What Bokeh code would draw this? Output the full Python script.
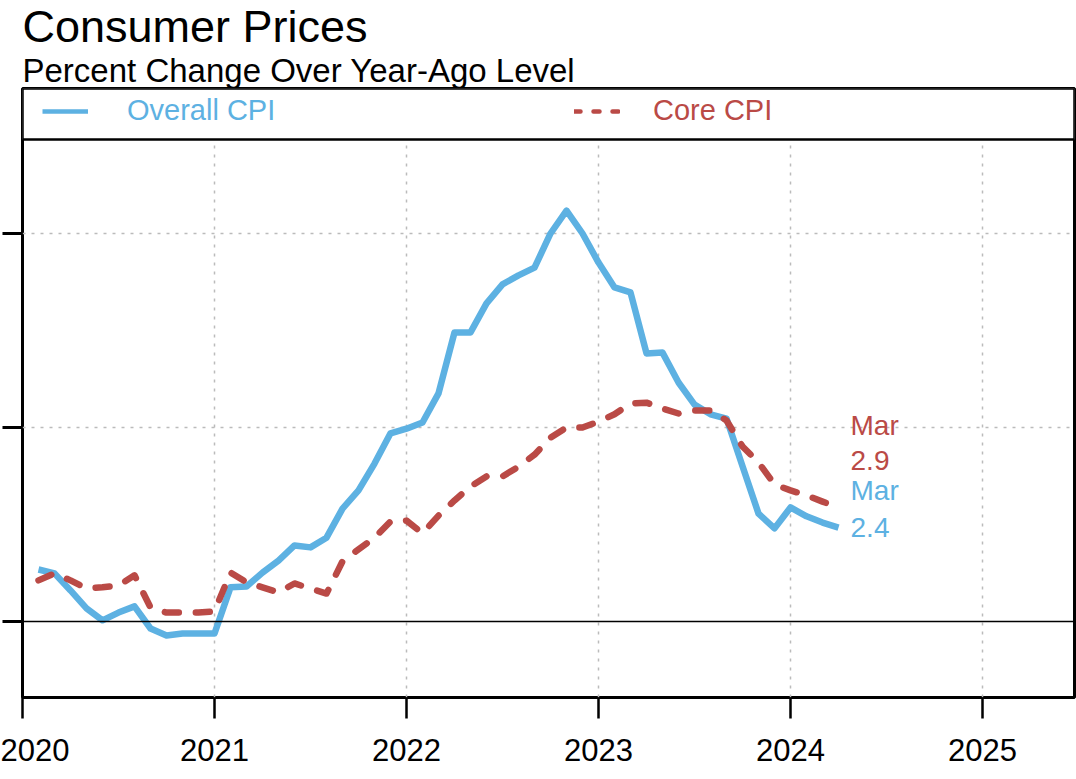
from bokeh.plotting import figure
from bokeh.models import (Title, Span, FixedTicker, BoxAnnotation, Legend, LegendItem,
                          Range1d, ColumnDataSource)
from bokeh.core.properties import value
from bokeh.embed import file_html
from bokeh.resources import INLINE

# ---------------- data ----------------
months = [f"{y}-{m:02d}" for y in range(2020, 2025) for m in range(1, 13)][:51]  # Jan 2020 .. Mar 2024

overall_cpi = [1.34, 1.24, 0.80, 0.34, 0.03, 0.23, 0.39, -0.18, -0.36, -0.31, -0.31, -0.31,
               0.88, 0.90, 1.26, 1.57, 1.96, 1.91, 2.16, 2.91, 3.38, 4.07, 4.85, 4.97,
               5.13, 5.88, 7.45, 7.45, 8.20, 8.69, 8.92, 9.12, 10.00, 10.59, 10.00, 9.25,
               8.61, 8.48, 6.91, 6.93, 6.16, 5.59, 5.34, 5.23, 4.00, 2.78, 2.40, 2.94,
               2.71, 2.55, 2.42]

core_cpi = [1.06, 1.24, 1.06, 0.85, 0.88, 0.93, 1.19, 0.36, 0.23, 0.23, 0.23, 0.26,
            1.26, 1.01, 0.88, 0.75, 0.98, 0.85, 0.72, 1.55, 1.86, 2.16, 2.58, 2.60,
            2.27, 2.73, 3.12, 3.48, 3.74, 3.74, 3.99, 4.30, 4.74, 5.00, 5.00, 5.15,
            5.34, 5.62, 5.64, 5.49, 5.36, 5.44, 5.44, 5.18, 4.51, 4.10, 3.53, 3.38,
            3.25, 3.09, 2.94]

year_ticks = [2020, 2021, 2022, 2023, 2024, 2025]
year_labels = ["2020", "2021", "2022", "2023", "2024", "2025"]
y_ticks = [0, 5, 10]
grid_y = [5, 10]
series_names = ["Overall CPI", "Core CPI"]
last_month_label = "Mar"

# ---------------- style ----------------
FONT = "Liberation Sans"
BLUE = "#5DB1E2"
RED = "#BA4A46"
NAN = float("nan")

x = [int(s[:4]) + int(s[5:]) / 12 for s in months]
src = ColumnDataSource(dict(x=x, overall=overall_cpi, core=core_cpi))

p = figure(width=1076, height=776, output_backend="svg", toolbar_location=None,
           x_range=Range1d(2020.0, 2025.479), y_range=Range1d(-1.959, 13.737),
           min_border_left=22, min_border_right=2, min_border_top=0, min_border_bottom=79)

p.outline_line_color = "black"
p.outline_line_width = 3
p.background_fill_color = "white"
p.border_fill_color = "white"

# titles
sub = Title(text="Percent Change Over Year-Ago Level", text_font=FONT, text_font_size="33px",
            text_font_style="normal", text_color="black", align="left", standoff=0)
main = Title(text="Consumer Prices", text_font=FONT, text_font_size="45px",
             text_font_style="normal", text_color="black", align="left", standoff=-4)
p.add_layout(sub, "above")
p.add_layout(main, "above")

# grids
p.xgrid.ticker = FixedTicker(ticks=year_ticks)
p.ygrid.ticker = FixedTicker(ticks=grid_y)
for g in (p.xgrid, p.ygrid):
    g.grid_line_color = "#BBBBBB"
    g.grid_line_dash = "3 6"
    g.grid_line_width = 1.5

# axes
p.yaxis.ticker = FixedTicker(ticks=y_ticks)
p.yaxis.major_label_overrides = {t: "" for t in y_ticks}
p.yaxis.major_label_standoff = 0
p.yaxis.major_tick_out = 20
p.yaxis.major_tick_in = 0
p.yaxis.major_tick_line_width = 3
p.yaxis.minor_tick_line_color = None
p.yaxis.axis_line_color = None

p.xaxis.ticker = FixedTicker(ticks=year_ticks)
p.xaxis.major_label_overrides = dict(zip(year_ticks, year_labels))
p.xaxis.major_label_text_font = FONT
p.xaxis.major_label_text_font_size = "31px"
p.xaxis.major_label_text_color = "black"
p.xaxis.major_label_standoff = 20
p.xaxis.major_tick_out = 21
p.xaxis.major_tick_in = 0
p.xaxis.major_tick_line_width = 2.5
p.xaxis.minor_tick_line_color = None
p.xaxis.axis_line_color = None

# legend box (covers grid in the top strip)
p.add_layout(BoxAnnotation(bottom=12.42, fill_color="white", fill_alpha=1.0,
                           line_color="black", line_alpha=1.0, line_width=2.5))

# zero line
p.add_layout(Span(location=0, dimension="width", line_color="black", line_width=1.5))

r_blue = p.line("x", "overall", source=src, line_color=BLUE, line_width=6.5, line_join="round")
r_red = p.line("x", "core", source=src, line_color=RED, line_width=6.5, line_dash="14 17",
               line_cap="round", line_join="round")

# legend-only keys (short dashes in the key, as in the reference); NaN data draws nothing
keysrc = ColumnDataSource(dict(x=[NAN, NAN], y=[NAN, NAN]))
k_blue = p.line("x", "y", source=keysrc, line_color=BLUE, line_width=4.5)
k_red = p.line("x", "y", source=keysrc, line_color=RED, line_width=4.5, line_dash="6 13",
               line_cap="round")

leg1 = Legend(items=[LegendItem(label=series_names[0], renderers=[k_blue])],
              location=(20, 570), orientation="horizontal", glyph_width=46, glyph_height=30,
              label_standoff=39, label_text_font=FONT, label_text_font_size="29px",
              label_text_color=BLUE, border_line_color=None, background_fill_alpha=0,
              padding=0, margin=0)
leg2 = Legend(items=[LegendItem(label=series_names[1], renderers=[k_red])],
              location=(552, 570), orientation="horizontal", glyph_width=46, glyph_height=30,
              label_standoff=33, label_text_font=FONT, label_text_font_size="29px",
              label_text_color=RED, border_line_color=None, background_fill_alpha=0,
              padding=0, margin=0)
p.add_layout(leg1)
p.add_layout(leg2)

# end-of-line labels
lx = x[-1]
lab = ColumnDataSource(dict(
    x=[lx] * 4,
    y=[core_cpi[-1] + 2.1, core_cpi[-1] + 1.2, overall_cpi[-1] + 0.96, overall_cpi[-1]],
    t=[last_month_label, f"{core_cpi[-1]:.1f}", last_month_label, f"{overall_cpi[-1]:.1f}"],
    c=[RED, RED, BLUE, BLUE]))
p.text("x", "y", text="t", source=lab, x_offset=12, text_baseline="middle",
       text_color="c", text_font=value(FONT), text_font_size="28px")

open("out.html", "w").write(file_html(p, INLINE))
